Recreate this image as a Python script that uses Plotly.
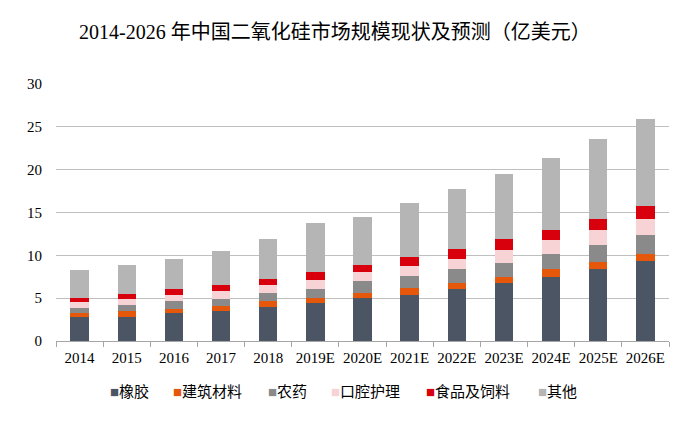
import plotly.graph_objects as go

years = ["2014", "2015", "2016", "2017", "2018", "2019E", "2020E", "2021E",
         "2022E", "2023E", "2024E", "2025E", "2026E"]
rubber = [2.84, 2.84, 3.23, 3.46, 4.01, 4.44, 5.02, 5.41, 6.03, 6.73, 7.47, 8.37, 9.38]
building = [0.39, 0.62, 0.47, 0.59, 0.62, 0.62, 0.58, 0.78, 0.74, 0.78, 0.90, 0.89, 0.74]
pesticide = [0.58, 0.74, 0.97, 0.89, 1.01, 1.01, 1.36, 1.36, 1.63, 1.60, 1.75, 1.91, 2.21]
oral = [0.78, 0.74, 0.74, 0.90, 0.90, 1.09, 1.09, 1.20, 1.21, 1.51, 1.67, 1.79, 1.95]
food = [0.43, 0.59, 0.62, 0.74, 0.74, 0.89, 0.86, 1.02, 1.17, 1.33, 1.17, 1.32, 1.44]
other = [3.31, 3.38, 3.58, 3.89, 4.67, 5.69, 5.56, 6.34, 6.96, 7.54, 8.44, 9.34, 10.16]

names = ["橡胶", "建筑材料", "农药", "口腔护理", "食品及饲料", "其他"]
colors = ["#4b5564", "#e5580c", "#8a8a8a", "#f7d3d6", "#d9000d", "#b5b5b5"]
values = [rubber, building, pesticide, oral, food, other]

font_family = "Liberation Serif, Noto Sans CJK SC, serif"

fig = go.Figure()
for name, vals, color in zip(names, values, colors):
    fig.add_trace(go.Bar(x=years, y=vals, name=name, marker_color=color,
                         marker_line_width=0, width=0.39, showlegend=False))

# compact legend drawn as annotations (square marker + label)
legend_x = [0.085, 0.187, 0.342, 0.445, 0.600, 0.783]
for name, color, lx in zip(names, colors, legend_x):
    fig.add_annotation(
        x=lx, y=-0.198, xref="paper", yref="paper", xanchor="left", yanchor="middle",
        showarrow=False,
        text=f"<span style='color:{color};font-size:15px'>■</span>{name}",
        font=dict(family=font_family, size=15, color="#000000"),
    )

fig.update_layout(
    barmode="stack",
    width=694, height=423,
    margin=dict(l=48, r=33, t=76, b=90),
    paper_bgcolor="white", plot_bgcolor="white",
    font=dict(family=font_family, size=15, color="#000000"),
    title=dict(text="2014-2026 年中国二氧化硅市场规模现状及预测（亿美元）",
               x=0.471, xanchor="center", y=0.943, yanchor="middle",
               font=dict(family=font_family, size=20, color="#000000")),
    showlegend=False,
)
fig.update_yaxes(range=[0, 30], dtick=5, showgrid=True, gridcolor="#bfbfbf",
                 gridwidth=1, zeroline=False, showline=False, ticks="",
                 ticklabelstandoff=13, tickfont=dict(size=15))
fig.update_xaxes(showline=True, linecolor="#a6a6a6", linewidth=1, ticks="outside",
                 tickson="boundaries", ticklen=5, tickcolor="#a6a6a6",
                 tickangle=0, tickfont=dict(size=15), showgrid=False,
                 ticklabelstandoff=3)

fig.write_html("out.html")
